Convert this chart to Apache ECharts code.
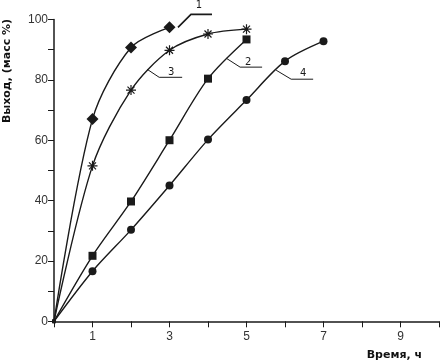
<!DOCTYPE html>
<html><head><meta charset="utf-8">
<script src="https://cdn.jsdelivr.net/npm/echarts@6/dist/echarts.min.js"></script>
<style>html,body{margin:0;padding:0;background:#fff}#c{width:442px;height:364px}</style>
</head><body><div id="c"></div>
<script>
// Data (time in hours, yield in mass %)
const xTicks = [1, 3, 5, 7, 9];
const yTicks = [0, 20, 40, 60, 80, 100];
const time1 = [0, 1, 2, 3];
const yield1 = [0, 67, 90.7, 97.4];
const time2 = [0, 1, 2, 3, 4, 5];
const yield2 = [0, 21.7, 39.7, 60, 80.4, 93.4];
const time3 = [0, 1, 2, 3, 4, 5];
const yield3 = [0, 51.5, 76.6, 89.8, 95.2, 96.8];
const time4 = [0, 1, 2, 3, 4, 5, 6, 7];
const yield4 = [0, 16.6, 30.3, 45, 60.2, 73.3, 86.2, 92.8];
const curveLabels = ['1', '2', '3', '4'];
const yName = 'Выход, (масс %)';
const xName = 'Время, ч';
// leader-line anchor points on curves (data coords)
const anchors = [[3.22, 97.4], [4.47, 87.2], [2.42, 83.5], [5.77, 83.2]];

const zip = (a, b) => a.map((v, i) => [v, b[i]]);
const ink = '#1a1a1a';
const star = 'path://M-1,0L1,0M0,-1L0,1M-0.7,-0.7L0.7,0.7M-0.7,0.7L0.7,-0.7';

function mk(data, symbol, size, extra) {
  return Object.assign({
    type: 'line', data: data, smooth: 0.3, symbol: symbol,
    symbolSize: (v) => v[0] === 0 ? 4 : size,
    lineStyle: {color: ink, width: 1.4},
    itemStyle: {color: ink},
    z: 3
  }, extra || {});
}

const chart = echarts.init(document.getElementById('c'), null, {renderer: 'canvas'});
chart.setOption({
  animation: false,
  backgroundColor: '#fff',
  grid: {left: 54, right: 3, top: 19.5, bottom: 42.7, containLabel: false, outerBoundsMode: 'none'},
  xAxis: {
    type: 'value', min: 0, max: 10, interval: 1,
    axisLine: {lineStyle: {color: ink, width: 1.5}},
    axisTick: {show: true, inside: false, length: 6, lineStyle: {color: ink, width: 1}},
    axisLabel: {
      fontFamily: 'Liberation Sans', fontSize: 12, color: '#333', margin: 9,
      formatter: (v) => xTicks.indexOf(v) >= 0 ? String(v) : ''
    },
    splitLine: {show: false}
  },
  yAxis: {
    type: 'value', min: 0, max: 100, interval: 10,
    axisLine: {show: true, lineStyle: {color: ink, width: 1.5}},
    axisTick: {show: true, inside: false, length: 6, lineStyle: {color: ink, width: 1}},
    axisLabel: {
      fontFamily: 'Liberation Sans', fontSize: 12, color: '#333', margin: 6,
      formatter: (v) => yTicks.indexOf(v) >= 0 ? String(v) : ''
    },
    splitLine: {show: false}
  },
  series: [
    mk(zip(time1, yield1), 'diamond', 12),
    mk(zip(time2, yield2), 'rect', 8),
    mk(zip(time3, yield3), star, 10, {itemStyle: {color: ink, borderColor: ink, borderWidth: 1.2}}),
    mk(zip(time4, yield4), 'circle', 8)
  ]
});

// Leader lines, curve numbers and axis titles (annotations)
const offs = [
  {elbow: [13, -13], end: [34, -13], lab: [21, -22]},
  {elbow: [14, 9], end: [36, 9], lab: [22, 4]},
  {elbow: [12, 8], end: [35, 8], lab: [24, 3]},
  {elbow: [15, 9], end: [37, 9], lab: [27, 3]}
];
const g = [];
anchors.forEach((a, i) => {
  const p = chart.convertToPixel({gridIndex: 0}, a);
  const o = offs[i];
  g.push({type: 'polyline', silent: true, z: 10,
    shape: {points: [[p[0], p[1]], [p[0] + o.elbow[0], p[1] + o.elbow[1]], [p[0] + o.end[0], p[1] + o.end[1]]]},
    style: {stroke: ink, lineWidth: i === 0 ? 1.6 : 1, fill: null}});
  g.push({type: 'text', silent: true, z: 10, x: p[0] + o.lab[0], y: p[1] + o.lab[1],
    style: {text: curveLabels[i], fontFamily: 'DejaVu Sans', fontSize: 10, fill: ink,
      align: 'center', verticalAlign: 'middle'}});
});
g.push({type: 'text', silent: true, x: 7, y: 71, rotation: Math.PI / 2,
  style: {text: yName, fontFamily: 'DejaVu Sans', fontWeight: 'bold', fontSize: 11, fill: '#111',
    align: 'center', verticalAlign: 'middle'}});
g.push({type: 'text', silent: true, x: 422, y: 355,
  style: {text: xName, fontFamily: 'DejaVu Sans', fontWeight: 'bold', fontSize: 11, fill: '#111',
    align: 'right', verticalAlign: 'middle'}});
chart.setOption({graphic: g});
</script></body></html>
